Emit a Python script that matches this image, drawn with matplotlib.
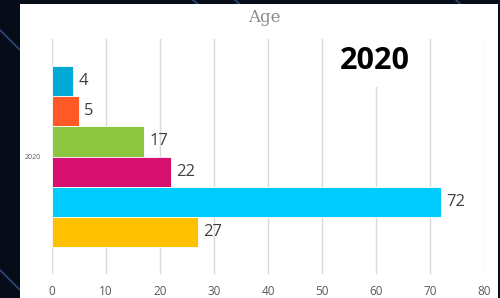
import matplotlib.pyplot as plt
from matplotlib.patches import Rectangle
from matplotlib.lines import Line2D

# data (top to bottom)
values = [4, 5, 17, 22, 72, 27]
colors = ["#00a9d6", "#ff5a26", "#8cc63e", "#d6106e", "#00ccff", "#ffc000"]
category = ["2020"]
x_ticks = [0, 10, 20, 30, 40, 50, 60, 70, 80]

fig = plt.figure(figsize=(5, 2.98), dpi=100)
fig.patch.set_facecolor("#070d18")

# decorative lines on the dark background
deco = [((0, 20), (268, 248)), ((0, 20), (28, 8)), ((193, 200), (298, 292)),
        ((235, 242), (298, 292)), ((456, 462), (298, 292))]
for xs, ys in deco:
    fig.add_artist(Line2D([x / 500 for x in xs], [y / 298 for y in ys],
                          color="#2c4a78", lw=1.2, transform=fig.transFigure, zorder=-2))

# white panel
fig.add_artist(Rectangle((0.04, 0), 0.956, 0.9866, transform=fig.transFigure,
                         facecolor="white", edgecolor="none", zorder=-1))

ax = fig.add_axes([0.1034, 0.0805, 0.8652, 0.7886])
ax.set_facecolor("white")
pos = list(range(len(values)))
ax.barh(pos, values, height=1.0, color=colors, edgecolor="white", linewidth=0.6, zorder=3)

for p, v in zip(pos, values):
    ax.annotate(str(v), (v, p), xytext=(4, 0), textcoords="offset points",
                va="center", ha="left", fontsize=12, color="#404040",
                family="Open Sans", zorder=4)

ax.set_xlim(0, 80)
ax.set_ylim(6.395, -1.395)
ax.set_xticks(x_ticks)
ax.set_xticklabels([str(t) for t in x_ticks], family="Open Sans", fontsize=8.5, color="#595959")
ax.set_yticks([2.5])
ax.set_yticklabels(category, family="Open Sans", fontsize=5, color="#595959")
ax.tick_params(length=0)
ax.tick_params(axis="x", pad=8)
ax.tick_params(axis="y", pad=8)
ax.grid(axis="x", color="#d9d9d9", lw=1, zorder=0)
for s in ax.spines.values():
    s.set_visible(False)

# title
fig.text(0.528, 0.94, "Age", ha="center", va="center", fontsize=12,
         family="DejaVu Serif", color="#8a8a8a")

# year box
fig.text(0.75, 1 - 61 / 298, "2020", ha="center", va="center", fontsize=22,
         family="Open Sans", fontweight="bold", color="black",
         bbox=dict(facecolor="white", edgecolor="none", pad=8), zorder=5)

plt.savefig("out.png", dpi=100, facecolor=fig.get_facecolor())
